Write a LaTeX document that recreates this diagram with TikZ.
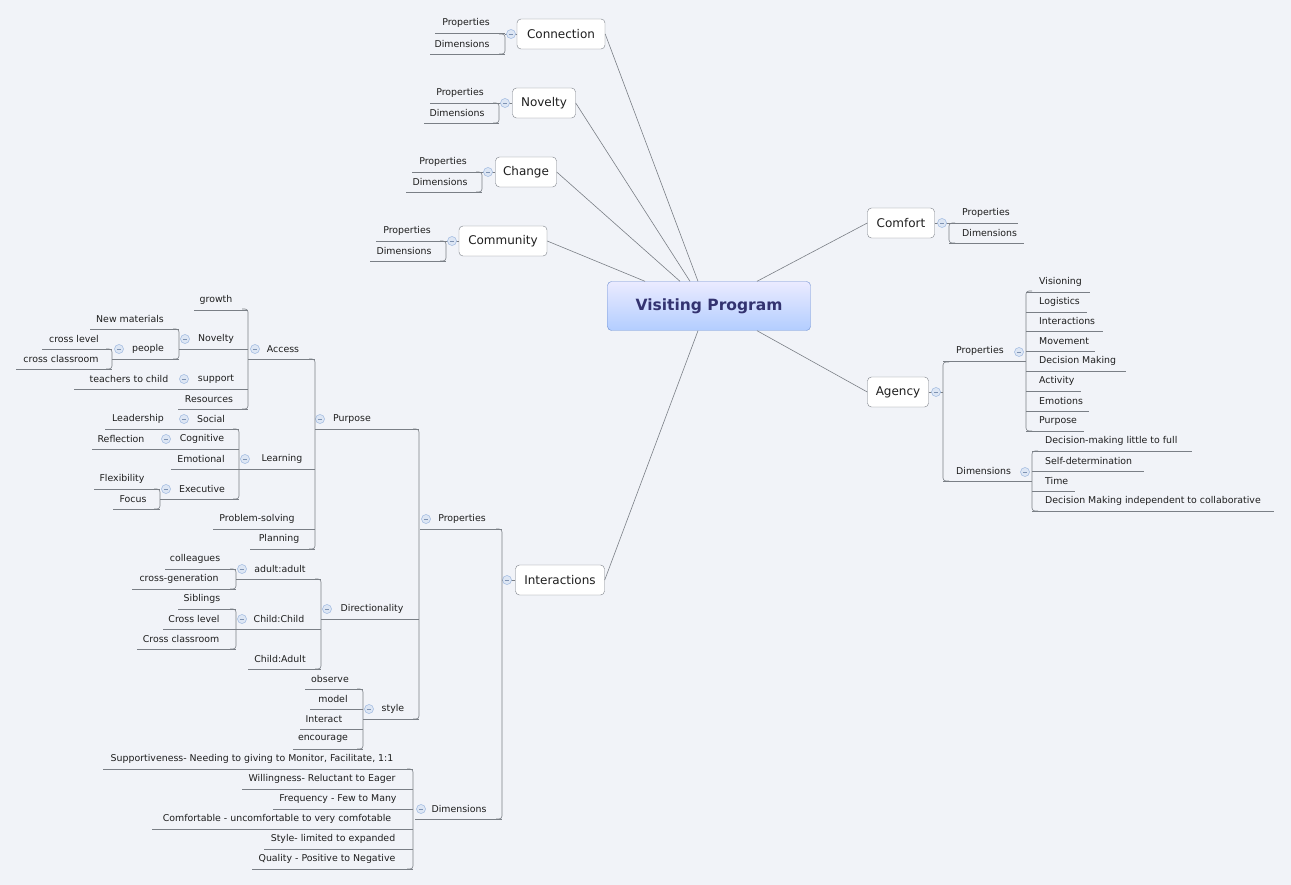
\documentclass[tikz,border=0pt]{standalone}
\usepackage{fontspec}
\setmainfont{DejaVu Sans}
\definecolor{bgcol}{HTML}{F1F3F8}
\definecolor{lncol}{HTML}{7A7F86}
\definecolor{txtcol}{HTML}{1E1E1E}
\definecolor{mkcol}{HTML}{9DB8E0}
\tikzstyle{lbl} = [inner sep=0pt, text=txtcol, font=\fontsize{9.4}{11}\selectfont]
\tikzstyle{box} = [rectangle, rounded corners=4pt, draw=lncol, fill=white, text=txtcol, inner xsep=6pt, minimum height=30pt, font=\fontsize{12}{14}\selectfont]
\tikzstyle{ln} = [draw=lncol, line width=0.6pt]
\tikzstyle{spine} = [ln, rounded corners=3pt]
% label with its underline
\newcommand{\lb}[6]{\node[lbl] (#1) at (#2,#3) {#4};
  \draw[ln] (#5,#3+10) -- (#6,#3+10);}
\newcommand{\rb}[6]{\node[lbl, anchor=west] (#1) at (#2,#3) {#4};
  \draw[ln] (#5,#3+10) -- (#6,#3+10);}
% collapse marker
\newcommand{\mk}[2]{\draw[mkcol, fill=mkcol!35, line width=0.5pt] (#1,#2) circle (4.5pt);
  \draw[mkcol!80!black, line width=0.5pt] (#1-2.2,#2) -- (#1+2.2,#2);}

\begin{document}
\begin{tikzpicture}[x=1pt, y=-1pt]
\fill[bgcol] (0,0) rectangle (1291,885);
\useasboundingbox (0,0) rectangle (1291,885);

% centre and main topics
\node (vp) [box, top color=blue!8, bottom color=cyan!35!blue!30, draw=cyan!40!blue!60, minimum width=203pt, minimum height=49pt, text=black!70!blue!80, font=\fontsize{15.5}{18}\selectfont\bfseries] at (709,306) {Visiting Program};
\node (conn) [box, minimum width=88pt] at (561,34) {Connection};
\node (nov) [box, minimum width=63pt] at (544,103) {Novelty};
\node (chg) [box, minimum width=61pt] at (526,172) {Change};
\node (com) [box, minimum width=88pt] at (503,241) {Community};
\node (cmf) [box, minimum width=67pt] at (901,223) {Comfort};
\node (agc) [box, minimum width=61pt] at (898,392) {Agency};
\node (int) [box, minimum width=89pt] at (560,580) {Interactions};

\draw[ln] (conn.east) -- ([xshift=-11pt]vp.north);
\draw[ln] (nov.east) -- ([xshift=-19pt]vp.north);
\draw[ln] (chg.east) -- ([xshift=-29pt]vp.north);
\draw[ln] (com.east) -- ([xshift=-64pt]vp.north);
\draw[ln] (cmf.west) -- ([xshift=48pt]vp.north);
\draw[ln] (agc.west) -- ([xshift=48pt]vp.south);
\draw[ln] (int.east) -- ([xshift=-11pt]vp.south);

% top left topics
\lb{connP}{466}{23}{Properties}{435}{505}
\lb{connD}{462}{44}{Dimensions}{430}{505}
\draw[spine] (499,34) -- (505,34) -- (505,54) -- (499,54);
\draw[ln] (505,34) -- (conn.west); \mk{511}{34}
\lb{novP}{460}{93}{Properties}{430}{499}
\lb{novD}{457}{113}{Dimensions}{424}{499}
\draw[spine] (493,103) -- (499,103) -- (499,123) -- (493,123);
\draw[ln] (499,103) -- (nov.west); \mk{505}{103}
\lb{chgP}{443}{162}{Properties}{412}{482}
\lb{chgD}{440}{182}{Dimensions}{406}{482}
\draw[spine] (476,172) -- (482,172) -- (482,192) -- (476,192);
\draw[ln] (482,172) -- (chg.west); \mk{488}{172}
\lb{comP}{407}{231}{Properties}{376}{446}
\lb{comD}{404}{251}{Dimensions}{370}{446}
\draw[spine] (440,241) -- (446,241) -- (446,261) -- (440,261);
\draw[ln] (446,241) -- (com.west); \mk{452}{241}

% Comfort
\rb{cmfP}{962}{213}{Properties}{949}{1018}
\rb{cmfD}{962}{233}{Dimensions}{949}{1024}
\draw[spine] (955,223) -- (949,223) -- (949,243) -- (955,243);
\draw[ln] (cmf.east) -- (949,223); \mk{942}{223}

% Agency
\draw[ln] (agc.east) -- (943,392); \mk{936}{392}
\draw[spine] (949,362) -- (943,362) -- (943,481) -- (949,481);
\rb{agP}{956}{351}{Properties}{943}{1026} \mk{1019}{352}
\rb{agD}{956}{471}{Dimensions}{943}{1032} \mk{1025}{472}
\draw[spine] (1032,291) -- (1026,291) -- (1026,431) -- (1032,431);
\rb{vis}{1039}{282}{Visioning}{1026}{1090}
\rb{log}{1039}{302}{Logistics}{1026}{1087}
\rb{inr}{1039}{321}{Interactions}{1026}{1103}
\rb{mov}{1039}{341}{Movement}{1026}{1095}
\rb{dec}{1039}{361}{Decision Making}{1026}{1126}
\rb{act}{1039}{381}{Activity}{1026}{1081}
\rb{emo}{1039}{401}{Emotions}{1026}{1089}
\rb{pur}{1039}{421}{Purpose}{1026}{1084}
\draw[spine] (1038,451) -- (1032,451) -- (1032,511) -- (1038,511);
\rb{dm1}{1045}{441}{Decision-making little to full}{1032}{1192}
\rb{sdt}{1045}{461}{Self-determination}{1032}{1144}
\rb{tim}{1045}{481}{Time}{1032}{1075}
\rb{dm2}{1045}{501}{Decision Making independent to collaborative}{1032}{1274}

% Interactions
\draw[ln] (int.west) -- (502,580); \mk{507}{580}
\draw[spine] (496,529) -- (502,529) -- (502,819) -- (496,819);
\lb{inP}{462}{519}{Properties}{420}{502} \mk{426}{519}
\lb{inD}{459}{809}{Dimensions}{415}{502} \mk{421}{809}
\draw[spine] (413,429) -- (419,429) -- (419,719) -- (413,719);
\lb{purp}{352}{419}{Purpose}{315}{419} \mk{320}{419}
\lb{dirc}{372}{609}{Directionality}{321}{419} \mk{327}{609}
\lb{styl}{393}{709}{style}{363}{419} \mk{369}{709}

% Purpose
\draw[spine] (309,359) -- (315,359) -- (315,549) -- (309,549);
\lb{acc}{283}{349}{Access}{248}{315} \mk{255}{349}
\lb{lrn}{282}{459}{Learning}{239}{315} \mk{245}{459}
\lb{prs}{257}{519}{Problem-solving}{213}{315}
\lb{pln}{279}{539}{Planning}{250}{315}
% Access
\draw[spine] (242,309) -- (248,309) -- (248,409) -- (242,409);
\lb{grw}{216}{300}{growth}{194}{248}
\lb{anv}{216}{339}{Novelty}{179}{248} \mk{185}{339}
\lb{sup}{216}{379}{support}{178}{248} \mk{184}{379}
\lb{res}{209}{399}{Resources}{178}{248}
\draw[spine] (173,329) -- (179,329) -- (179,359) -- (173,359);
\lb{nmt}{130}{319}{New materials}{90}{179}
\lb{ppl}{148}{349}{people}{112}{179} \mk{119}{349}
\draw[spine] (106,349) -- (112,349) -- (112,369) -- (106,369);
\lb{crl}{74}{339}{cross level}{42}{112}
\lb{crc}{61}{359}{cross classroom}{16}{112}
\lb{ttc}{129}{379}{teachers to child}{74}{178}
% Learning
\draw[spine] (233,429) -- (239,429) -- (239,499) -- (233,499);
\lb{soc}{211}{419}{Social}{172}{239} \mk{184}{419}
\lb{cog}{202}{439}{Cognitive}{159}{239} \mk{166}{439}
\lb{emt}{201}{459}{Emotional}{171}{239}
\lb{exe}{202}{489}{Executive}{160}{239} \mk{166}{489}
\lb{ldr}{138}{419}{Leadership}{105}{172}
\lb{rfl}{121}{439}{Reflection}{92}{159}
\draw[spine] (154,489) -- (160,489) -- (160,509) -- (154,509);
\lb{flx}{122}{479}{Flexibility}{94}{160}
\lb{foc}{133}{499}{Focus}{113}{160}

% Directionality
\draw[spine] (315,579) -- (321,579) -- (321,669) -- (315,669);
\lb{aa}{280}{569}{adult:adult}{236}{321} \mk{242}{569}
\lb{cc}{279}{619}{Child:Child}{236}{321} \mk{242}{619}
\lb{ca}{280}{659}{Child:Adult}{248}{321}
\draw[spine] (230,569) -- (236,569) -- (236,589) -- (230,589);
\lb{col}{195}{559}{colleagues}{165}{236}
\lb{cgn}{179}{579}{cross-generation}{132}{236}
\draw[spine] (230,609) -- (236,609) -- (236,649) -- (230,649);
\lb{sib}{202}{599}{Siblings}{178}{236}
\lb{ccl}{194}{619}{Cross level}{163}{236}
\lb{ccr}{181}{639}{Cross classroom}{137}{236}

% style
\draw[spine] (357,689) -- (363,689) -- (363,749) -- (357,749);
\lb{obs}{330}{679}{observe}{305}{363}
\lb{mdl}{333}{699}{model}{310}{363}
\lb{itr}{324}{719}{Interact}{300}{363}
\lb{enc}{323}{739}{encourage}{293}{363}

% Dimensions
\draw[spine] (407,769) -- (413,769) -- (413,869) -- (407,869);
\lb{d1}{252}{759}{Supportiveness- Needing to giving to Monitor, Facilitate, 1:1}{103}{413}
\lb{d2}{322}{779}{Willingness- Reluctant to Eager}{242}{413}
\lb{d3}{338}{799}{Frequency - Few to Many}{273}{413}
\lb{d4}{277}{819}{Comfortable - uncomfortable to very comfotable}{152}{413}
\lb{d5}{333}{839}{Style- limited to expanded}{264}{413}
\lb{d6}{327}{859}{Quality - Positive to Negative}{252}{413}
\end{tikzpicture}
\end{document}
